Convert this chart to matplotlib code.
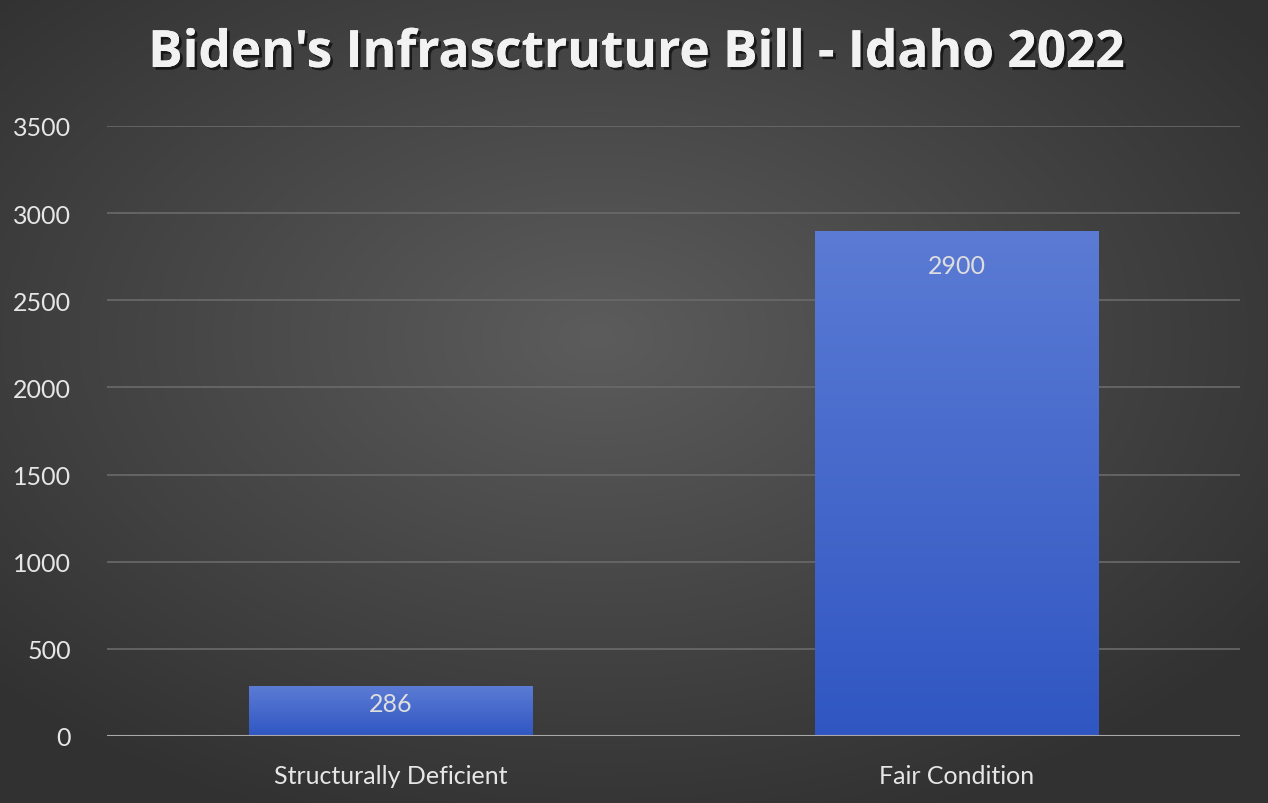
import matplotlib
matplotlib.use("Agg")
import matplotlib.pyplot as plt
import matplotlib.patheffects as pe
import numpy as np

categories = ["Structurally Deficient", "Fair Condition"]
values = [286, 2900]
yticks = [0, 500, 1000, 1500, 2000, 2500, 3000, 3500]
title = "Biden's Infrasctruture Bill - Idaho 2022"

W, H = 1268, 804
fig = plt.figure(figsize=(W / 100, H / 100), dpi=100)

# radial gradient background
bg = fig.add_axes([0, 0, 1, 1], zorder=-10)
yy, xx = np.mgrid[0:H, 0:W]
cx, cy = W * 0.47, H * 0.42
r = np.sqrt(((xx - cx) / (W * 0.65)) ** 2 + ((yy - cy) / (H * 0.65)) ** 2)
r = np.clip(r, 0, 1)
inner = np.array([0x5c, 0x5c, 0x5c]) / 255
outer = np.array([0x31, 0x31, 0x31]) / 255
img = inner[None, None, :] * (1 - r[..., None]) + outer[None, None, :] * r[..., None]
bg.imshow(img, aspect="auto", extent=[0, 1, 0, 1], origin="upper")
bg.set_axis_off()

ax = fig.add_axes([107 / W, 67 / H, (1240 - 107) / W, (737 - 127) / H])
ax.patch.set_alpha(0)
x = np.arange(len(categories))
bars = ax.bar(x, values, width=0.5, color="#4a6cd0", zorder=3)

grad = np.linspace(0, 1, 256)[:, None]
top = np.array([0x5b, 0x7b, 0xd4]) / 255
bot = np.array([0x30, 0x56, 0xc2]) / 255
gimg = top[None, None, :] * (1 - grad[..., None]) + bot[None, None, :] * grad[..., None]
for b in bars:
    bx, by = b.get_x(), b.get_y()
    bw, bh = b.get_width(), b.get_height()
    im = ax.imshow(gimg, aspect="auto", extent=[bx, bx + bw, by, by + bh],
                   origin="upper", zorder=4)
    im.set_clip_path(b)

for xi, v in zip(x, values):
    off = min(200, 0.35 * v)
    ax.text(xi, v - off, str(v), ha="center", va="center", color="#dedede",
            fontsize=18, family="Lato", zorder=6)

ax.set_xlim(-0.5, 1.5)
ax.set_ylim(0, 3500)
ax.set_yticks(yticks)
ax.set_yticklabels([str(t) for t in yticks])
ax.set_xticks(x)
ax.set_xticklabels(categories)
ax.tick_params(axis="both", length=0, colors="#e6e6e6", labelsize=18)
ax.tick_params(axis="y", pad=26)
ax.tick_params(axis="x", pad=20)
for lbl in ax.get_xticklabels() + ax.get_yticklabels():
    lbl.set_family("Lato")
    lbl.set_color("#e6e6e6")
for s in ax.spines.values():
    s.set_visible(False)
ax.grid(axis="y", color="#6a6a6a", linewidth=1.2, zorder=1)
ax.axhline(0, color="#a8a8a8", linewidth=1.5, zorder=5)
ax.set_axisbelow(True)

fig.text(636 / W, 1 - 55 / H, title, ha="center", va="center",
         color="#f2f2f2", fontsize=37, fontweight="bold", family="Open Sans",
         path_effects=[pe.withSimplePatchShadow(offset=(2, -2), shadow_rgbFace="black", alpha=0.6),
                       pe.Normal()])

fig.savefig("out.png", dpi=100)
